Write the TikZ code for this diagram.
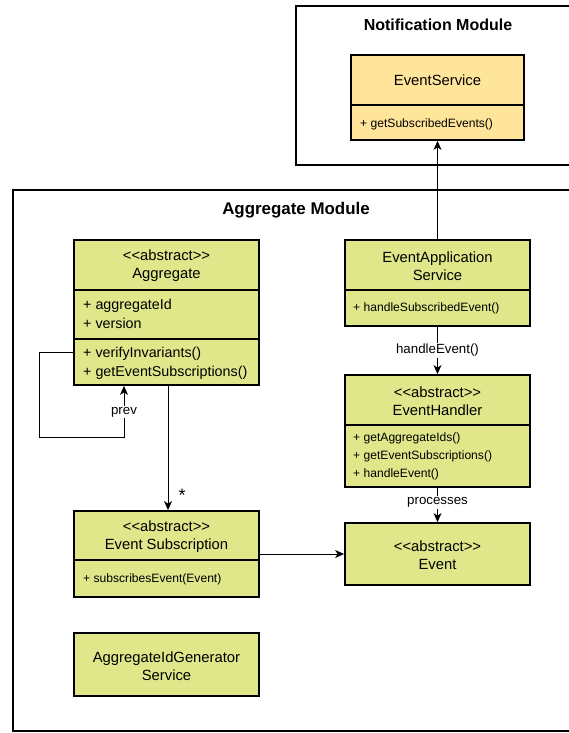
\documentclass[tikz,border=0pt]{standalone}
\usepackage{fontspec}
\setmainfont{Liberation Sans}[Ligatures=TeXOff]
\usetikzlibrary{arrows.meta}
\definecolor{clsfill}{RGB}{224,231,138}
\definecolor{svcfill}{RGB}{255,229,153}
\begin{document}
\begin{tikzpicture}[x=1pt,y=-1pt,
  box/.style={draw=black, line width=1.8pt, inner sep=0pt, fill=clsfill},
  module/.style={draw=black, line width=1.8pt},
  divider/.style={line width=1.6pt},
  cname/.style={inner sep=0pt, align=center, font=\fontsize{14.8}{18}\selectfont},
  meth/.style={inner sep=0pt, anchor=west, align=left, font=\fontsize{12.1}{18}\selectfont},
  bigmeth/.style={inner sep=0pt, anchor=west, align=left, font=\fontsize{14.3}{19}\selectfont},
  conn/.style={line width=1pt, -{Stealth[length=9pt,width=8pt,inset=2.5pt]}},
  lbl/.style={fill=white, inner sep=1.5pt, font=\fontsize{13.3}{15}\selectfont},
  mtitle/.style={inner sep=0pt, font=\bfseries\fontsize{16}{18}\selectfont}]
\clip (0,0) rectangle (569,733);
\useasboundingbox (0,0) rectangle (569,733);

% modules
\draw[module] (296,6) rectangle (600,165);
\node[mtitle] (ntitle) at (438,24.5) {Notification Module};
\draw[module] (13,190) rectangle (600,731);
\node[mtitle, font=\bfseries\fontsize{16.9}{18}\selectfont] (atitle) at (296,210.5) {Aggregate Module};

% EventService
\node[box, fill=svcfill, minimum width=173pt, minimum height=85pt] (es) at (437.5,97.5) {};
\draw[divider] (es.west |- 0,105) -- (es.east |- 0,105);
\node[cname] (esname) at (437.5,80.5) {EventService};
\node[meth] (esm) at (360,124.5) {+ getSubscribedEvents()};

% Aggregate
\node[box, minimum width=185pt, minimum height=145pt] (agg) at (166.5,312.5) {};
\draw[divider] (agg.west |- 0,290) -- (agg.east |- 0,290);
\draw[divider] (agg.west |- 0,339) -- (agg.east |- 0,339);
\node[cname] (aggname) at (166.5,266) {<<abstract>>\\Aggregate};
\node[bigmeth] (aggattr) at (83,314) {+ aggregateId\\+ version};
\node[bigmeth] (aggmeth) at (83,363.5) {+ verifyInvariants()\\+ getEventSubscriptions()};

% EventApplicationService
\node[box, minimum width=185pt, minimum height=86pt] (eas) at (437.5,283) {};
\draw[divider] (eas.west |- 0,290) -- (eas.east |- 0,290);
\node[cname] (easname) at (437.5,266) {EventApplication\\Service};
\node[meth] (easm) at (353,308.5) {+ handleSubscribedEvent()};

% EventHandler
\node[box, minimum width=185pt, minimum height=112pt] (eh) at (437.5,431) {};
\draw[divider] (eh.west |- 0,425) -- (eh.east |- 0,425);
\node[cname] (ehname) at (437.5,401.5) {<<abstract>>\\EventHandler};
\node[meth] (ehm) at (353,456.5) {+ getAggregateIds()\\+ getEventSubscriptions()\\+ handleEvent()};

% Event Subscription
\node[box, minimum width=185pt, minimum height=86pt] (esub) at (166.5,554) {};
\draw[divider] (esub.west |- 0,560) -- (esub.east |- 0,560);
\node[cname] (esubname) at (166.5,537) {<<abstract>>\\Event Subscription};
\node[meth] (esubm) at (83,579.5) {+ subscribesEvent(Event)};

% Event
\node[box, minimum width=185pt, minimum height=62pt] (ev) at (437.5,554) {};
\node[cname] (evname) at (437.5,555) {<<abstract>>\\Event};

% AggregateIdGenerator Service
\node[box, minimum width=185pt, minimum height=63pt] (gen) at (166.5,664.5) {};
\node[cname] (genname) at (166.5,666) {AggregateIdGenerator\\Service};

% connectors
\draw[conn] (eas.north) -- (es.south);
\draw[conn] (eas.south) -- node[lbl] (l1) {handleEvent()} (eh.north);
\draw[conn] (eh.south) -- node[lbl, pos=0.42] (l2) {processes} (ev.north);
\draw[conn] (agg.south -| 168,0) -- (esub.north -| 168,0);
\node[inner sep=0pt, font=\fontsize{18}{18}\selectfont] (star) at (182,495) {*};
\draw[conn] (esub.east) -- (ev.west);

% self loop
\coordinate (p1) at (39,352);
\coordinate (p2) at (39,437);
\coordinate (p3) at (124,437);
\draw[conn] (agg.west |- p1) -- (p1) -- (p2) -- (p3) -- (p3 |- agg.south);
\node[lbl] (prev) at (124,412) {prev};
\end{tikzpicture}
\end{document}
